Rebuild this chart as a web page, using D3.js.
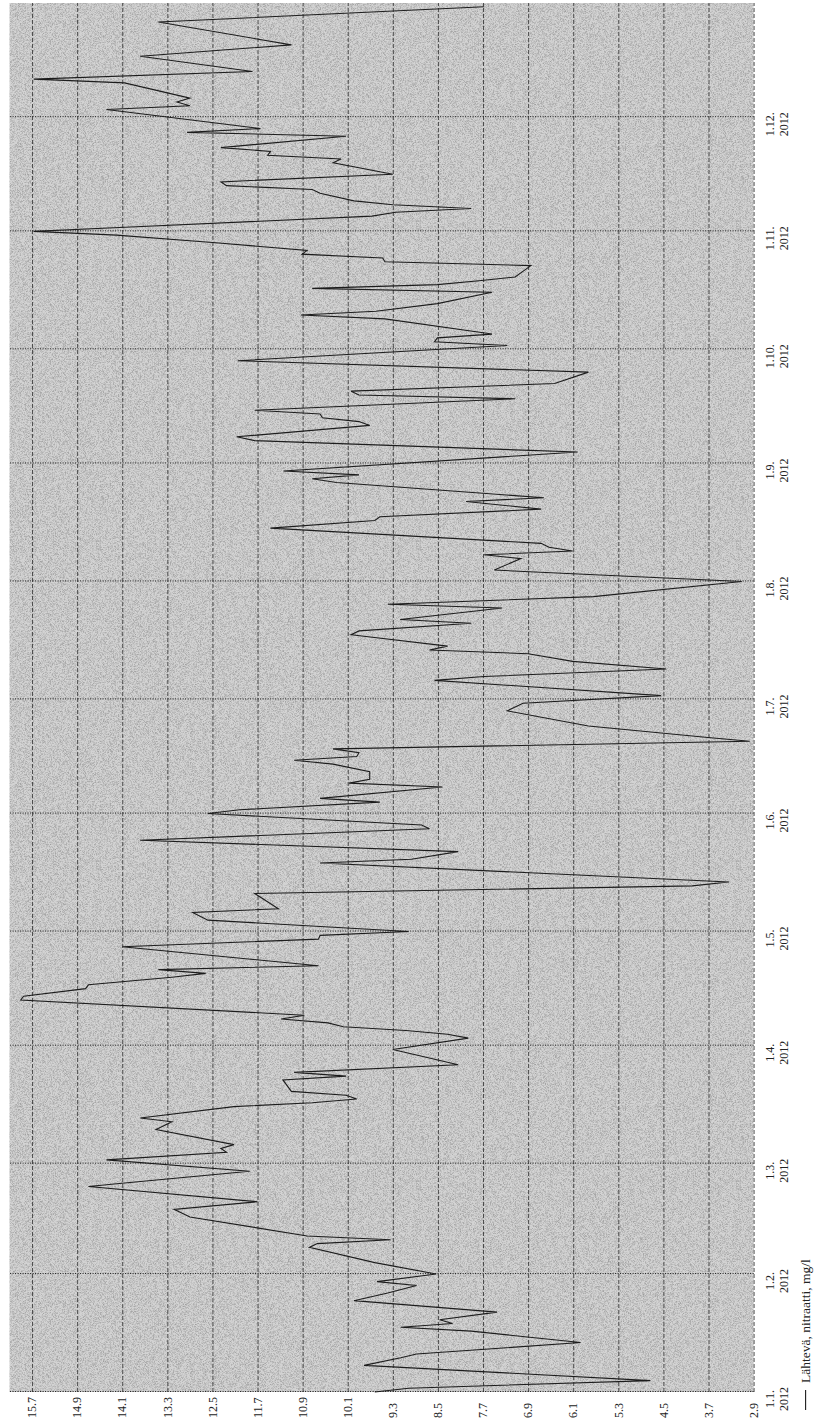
<!DOCTYPE html>
<html>
<head>
<meta charset="utf-8">
<script src="https://cdn.jsdelivr.net/npm/d3@7"></script>
<style>
  html, body { margin: 0; padding: 0; background: #ffffff; }
  svg { display: block; }
  text { font-family: "Liberation Serif", "Times New Roman", serif; fill: #222; }
</style>
</head>
<body>
<svg id="chart" width="816" height="1420"></svg>
<script>
// Outgoing nitrate concentration, 2012 (mg/l)
const seriesName = "Lähtevä, nitraatti, mg/l";

const dates = [
  "2012-01-01","2012-01-02","2012-01-04","2012-01-08","2012-01-10","2012-01-11","2012-01-14",
  "2012-01-17","2012-01-18","2012-01-19","2012-01-20","2012-01-22","2012-01-25","2012-01-27",
  "2012-01-29","2012-01-30","2012-02-01","2012-02-04","2012-02-08","2012-02-09","2012-02-10",
  "2012-02-11","2012-02-16","2012-02-18","2012-02-20","2012-02-24","2012-02-25","2012-02-28",
  "2012-03-02","2012-03-04","2012-03-05","2012-03-06","2012-03-10","2012-03-12","2012-03-13",
  "2012-03-16","2012-03-17","2012-03-18","2012-03-19","2012-03-20","2012-03-23","2012-03-24",
  "2012-03-25","2012-03-27","2012-03-31","2012-04-03","2012-04-04","2012-04-05","2012-04-06",
  "2012-04-07","2012-04-08","2012-04-09","2012-04-13","2012-04-14","2012-04-16","2012-04-17",
  "2012-04-19","2012-04-20","2012-04-21","2012-04-22","2012-04-27","2012-04-29","2012-04-30",
  "2012-05-01","2012-05-04","2012-05-06","2012-05-07","2012-05-11","2012-05-13","2012-05-14",
  "2012-05-19","2012-05-20","2012-05-22","2012-05-25","2012-05-28","2012-05-29","2012-06-01",
  "2012-06-02","2012-06-04","2012-06-05","2012-06-08","2012-06-09","2012-06-10","2012-06-12",
  "2012-06-14","2012-06-15","2012-06-16","2012-06-17","2012-06-18","2012-06-20","2012-06-21",
  "2012-06-24","2012-06-28","2012-06-30","2012-07-02","2012-07-06","2012-07-07","2012-07-09",
  "2012-07-11","2012-07-13","2012-07-14","2012-07-15","2012-07-18","2012-07-19","2012-07-21",
  "2012-07-22","2012-07-25","2012-07-26","2012-07-28","2012-08-01","2012-08-03","2012-08-04",
  "2012-08-07","2012-08-08","2012-08-09","2012-08-10","2012-08-11","2012-08-15","2012-08-17",
  "2012-08-18","2012-08-20","2012-08-22","2012-08-23","2012-08-27","2012-08-28","2012-08-29",
  "2012-08-30","2012-09-04","2012-09-07","2012-09-08","2012-09-11","2012-09-12","2012-09-13",
  "2012-09-14","2012-09-15","2012-09-18","2012-09-19","2012-09-20","2012-09-22","2012-09-25",
  "2012-09-28","2012-10-02","2012-10-03","2012-10-04","2012-10-05","2012-10-09","2012-10-10",
  "2012-10-11","2012-10-13","2012-10-16","2012-10-17","2012-10-18","2012-10-19","2012-10-20",
  "2012-10-23","2012-10-24","2012-10-25","2012-10-26","2012-10-27","2012-10-29","2012-10-31",
  "2012-11-01","2012-11-02","2012-11-05","2012-11-06","2012-11-07","2012-11-08","2012-11-09",
  "2012-11-11","2012-11-12","2012-11-13","2012-11-14","2012-11-16","2012-11-19","2012-11-20",
  "2012-11-21","2012-11-22","2012-11-23","2012-11-26","2012-11-27","2012-11-28","2012-12-03",
  "2012-12-04","2012-12-05","2012-12-06","2012-12-10","2012-12-11","2012-12-13","2012-12-17",
  "2012-12-20","2012-12-26","2012-12-30"
];

const values = [
  9.62, 9.02, 4.73, 9.81, 9.16, 8.88, 5.97,
  7.91, 9.16, 8.24, 8.47, 7.45, 9.99, 9.39,
  8.88, 9.58, 8.53, 9.62, 10.78, 10.64, 9.34,
  10.82, 12.90, 13.18, 11.70, 14.70, 14.01, 11.84,
  14.38, 12.25, 12.35, 12.12, 13.50, 13.22, 13.78,
  12.12, 10.73, 9.94, 10.13, 11.10, 11.25, 10.13,
  11.05, 8.14, 9.30, 7.96, 8.33, 9.07, 10.18,
  10.45, 11.28, 10.87, 15.90, 15.85, 14.75, 14.70,
  13.22, 12.62, 13.46, 10.62, 14.10, 10.62, 10.59,
  9.02, 12.58, 12.85, 11.33, 11.75, 3.99, 3.34,
  10.59, 8.97, 8.14, 13.78, 8.65, 8.79, 12.58,
  12.02, 9.53, 10.59, 8.42, 10.08, 9.71, 9.71,
  10.36, 11.05, 9.94, 9.90, 10.36, 2.97, 3.71,
  5.83, 7.27, 6.99, 4.54, 8.56, 7.68, 4.45,
  6.11, 6.90, 8.65, 8.33, 10.04, 9.90, 7.91,
  9.17, 7.36, 9.39, 5.74, 3.11, 6.11, 7.50,
  7.03, 7.68, 6.11, 6.53, 6.67, 11.47, 9.62,
  9.53, 6.67, 8.00, 6.62, 10.30, 10.73, 9.90,
  11.24, 6.02, 11.75, 12.07, 9.71, 9.90, 10.55,
  10.59, 11.75, 7.13, 9.90, 10.04, 6.43, 5.83,
  12.05, 7.27, 8.56, 8.51, 7.54, 9.44, 10.93,
  9.60, 8.51, 7.54, 10.73, 8.51, 7.77, 7.13,
  6.85, 9.44, 9.48, 10.91, 10.82, 12.44, 14.20,
  15.67, 14.15, 9.67, 9.25, 7.91, 9.30, 9.99,
  10.59, 10.73, 12.25, 12.35, 9.30, 10.36, 10.22,
  11.52, 11.47, 12.35, 10.13, 12.95, 11.65, 14.38,
  12.90, 13.13, 12.90, 14.06, 15.67, 11.79, 13.78,
  11.10, 13.46, 7.68
];

const valueTicks = [15.7, 14.9, 14.1, 13.3, 12.5, 11.7, 10.9, 10.1, 9.3, 8.5, 7.7, 6.9, 6.1, 5.3, 4.5, 3.7, 2.9];
const monthTicks = [
  "2012-01-01","2012-02-01","2012-03-01","2012-04-01","2012-05-01","2012-06-01",
  "2012-07-01","2012-08-01","2012-09-01","2012-10-01","2012-11-01","2012-12-01"
];
const timeDomain = ["2012-01-01", "2012-12-31"];
const valueDomain = [2.9, 16.1];

// The chart is laid out in a landscape frame and turned a quarter turn
// counter-clockwise onto the portrait page.
const pageW = 816, pageH = 1420;
const plot = { left: 28, right: 1417, top: 9.5, bottom: 753.6 };

const parse = d3.timeParse("%Y-%m-%d");
const series = dates.map((d, i) => ({ date: parse(d), value: values[i] }));

const x = d3.scaleTime()
  .domain(timeDomain.map(parse))
  .range([plot.left, plot.right]);
const y = d3.scaleLinear()
  .domain(valueDomain)
  .range([plot.bottom, plot.top]);

const svg = d3.select("#chart");

// light speckle for the plot area
const defs = svg.append("defs");
const grain = defs.append("filter").attr("id", "grain")
  .attr("x", 0).attr("y", 0).attr("width", 1).attr("height", 1);
grain.append("feTurbulence")
  .attr("type", "fractalNoise").attr("baseFrequency", 2.4)
  .attr("numOctaves", 1).attr("seed", 5).attr("result", "noise");
grain.append("feColorMatrix").attr("in", "noise").attr("type", "matrix")
  .attr("values", "0 0 0 0 0  0 0 0 0 0  0 0 0 0 0  2.6 0 0 0 -1.05")
  .attr("result", "specks");
grain.append("feComposite").attr("in", "specks").attr("in2", "SourceGraphic")
  .attr("operator", "in");

const g = svg.append("g")
  .attr("transform", `translate(0,${pageH}) rotate(-90)`);

// plot background
g.append("rect")
  .attr("x", plot.left).attr("y", plot.top)
  .attr("width", plot.right - plot.left)
  .attr("height", plot.bottom - plot.top)
  .attr("fill", "#d3d3d3");
g.append("rect")
  .attr("x", plot.left).attr("y", plot.top)
  .attr("width", plot.right - plot.left)
  .attr("height", plot.bottom - plot.top)
  .attr("fill", "#3a3a3a")
  .attr("opacity", 0.24)
  .attr("filter", "url(#grain)");

// horizontal value grid (dashed)
const yGrid = g.append("g")
  .attr("transform", `translate(${plot.left},0)`)
  .call(d3.axisLeft(y).tickValues(valueTicks)
    .tickSize(-(plot.right - plot.left)).tickFormat(""));
yGrid.select(".domain").remove();
yGrid.selectAll(".tick line")
  .attr("stroke", "#2a2a2a").attr("stroke-width", 0.8)
  .attr("stroke-dasharray", "4,2");

// vertical month grid (dotted)
const xGrid = g.append("g")
  .attr("transform", `translate(0,${plot.bottom})`)
  .call(d3.axisBottom(x).tickValues(monthTicks.map(parse))
    .tickSize(-(plot.bottom - plot.top)).tickFormat(""));
xGrid.select(".domain").remove();
xGrid.selectAll(".tick line")
  .attr("stroke", "#1a1a1a").attr("stroke-width", 1)
  .attr("stroke-dasharray", "1,1.5");

// value labels
g.append("g").selectAll("text")
  .data(valueTicks)
  .join("text")
  .attr("x", 2)
  .attr("y", d => y(d))
  .attr("dy", "0.35em")
  .attr("text-anchor", "start")
  .style("font-size", "12px")
  .text(d => d.toFixed(1));

// month labels, two lines
const fmtDay = d3.timeFormat("%-d.%-m.");
const fmtYear = d3.timeFormat("%Y");
const mLabels = g.append("g").selectAll("text")
  .data(monthTicks.map(parse))
  .join("text")
  .attr("text-anchor", "middle")
  .style("font-size", "12px");
mLabels.append("tspan")
  .attr("x", d => x(d) - 7).attr("y", plot.bottom + 20)
  .text(fmtDay);
mLabels.append("tspan")
  .attr("x", d => x(d) - 7).attr("y", plot.bottom + 34)
  .text(fmtYear);

// data line
const line = d3.line()
  .x(d => x(d.date))
  .y(d => y(d.value));
g.append("path")
  .datum(series)
  .attr("fill", "none")
  .attr("stroke", "#1c1c1c")
  .attr("stroke-width", 1.1)
  .attr("stroke-linejoin", "miter")
  .attr("d", line);

// legend
const legend = g.append("g")
  .attr("transform", `translate(10,${plot.bottom + 52})`);
legend.append("line")
  .attr("x1", 0).attr("x2", 20).attr("y1", 0).attr("y2", 0)
  .attr("stroke", "#1c1c1c").attr("stroke-width", 1.1);
legend.append("text")
  .attr("x", 27).attr("y", 0).attr("dy", "0.32em")
  .style("font-size", "13.5px")
  .text(seriesName);
</script>
</body>
</html>
